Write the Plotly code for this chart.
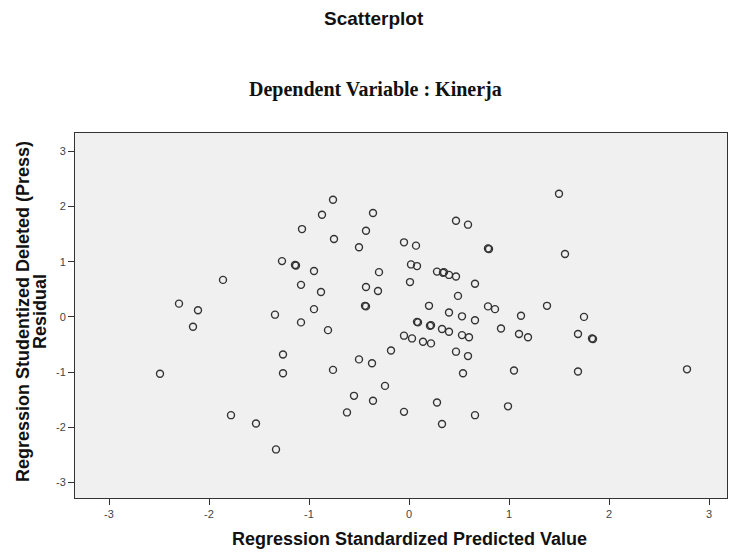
import plotly.graph_objects as go

# Regression Standardized Predicted Value (x) and Studentized Deleted Residual (y)
pred = [-2.49, -2.30, -2.11, -2.16, -1.86, -1.78, -1.53, -1.33, -1.34, -1.27,
        -1.14, -1.13, -1.26, -1.26, -1.07, -1.08, -1.08, -0.95, -0.95, -0.88,
        -0.87, -0.76, -0.75, -0.81, -0.76, -0.62, -0.55, -0.50, -0.50, -0.43,
        -0.44, -0.43, -0.43, -0.37, -0.36, -0.36, -0.31, -0.30, -0.24, -0.18,
        -0.05, -0.05, -0.05, 0.01, 0.02, 0.07, 0.08, 0.03, 0.08, 0.09,
        0.14, 0.20, 0.22, 0.21, 0.22, 0.28, 0.34, 0.35, 0.40, 0.28,
        0.33, 0.33, 0.40, 0.40, 0.47, 0.47, 0.49, 0.47, 0.53, 0.53,
        0.54, 0.59, 0.60, 0.59, 0.66, 0.66, 0.66, 0.79, 0.80, 0.79,
        0.86, 0.92, 0.99, 1.05, 1.10, 1.12, 1.19, 1.38, 1.50, 1.56,
        1.69, 1.69, 1.75, 1.83, 1.84, 2.78]
resid = [-1.03, 0.24, 0.12, -0.18, 0.67, -1.78, -1.93, -2.40, 0.04, 1.01,
         0.94, 0.93, -0.68, -1.02, 1.59, 0.58, -0.10, 0.83, 0.14, 0.45,
         1.85, 2.12, 1.41, -0.24, -0.96, -1.73, -1.43, 1.26, -0.77, 1.56,
         0.20, 0.19, 0.54, -0.84, -1.52, 1.88, 0.47, 0.81, -1.25, -0.61,
         1.35, -1.72, -0.34, 0.63, 0.95, 1.29, 0.92, -0.39, -0.09, -0.10,
         -0.45, 0.20, -0.15, -0.16, -0.48, 0.82, 0.80, 0.81, 0.76, -1.55,
         -1.94, -0.22, -0.27, 0.08, 1.74, 0.73, 0.38, -0.63, -0.33, 0.01,
         -1.02, 1.67, -0.37, -0.71, 0.60, -0.06, -1.78, 1.24, 1.23, 0.19,
         0.14, -0.21, -1.62, -0.97, -0.31, 0.02, -0.37, 0.20, 2.23, 1.14,
         -0.99, -0.31, 0.00, -0.39, -0.40, -0.95]

tick_vals = [-3, -2, -1, 0, 1, 2, 3]
tick_text = ["-3", "-2", "-1", "0", "1", "2", "3"]

title_text = "Scatterplot"
subtitle_text = "Dependent Variable : Kinerja"
x_title = "Regression Standardized Predicted Value"
y_title_1 = "Regression Studentized Deleted (Press)"
y_title_2 = "Residual"

SANS = "Liberation Sans, Arial, sans-serif"
SERIF = "Liberation Serif, Times New Roman, serif"

fig = go.Figure()
fig.add_trace(go.Scatter(
    x=pred, y=resid, mode="markers",
    marker=dict(symbol="circle-open", size=7, color="#333333",
                line=dict(width=1.4, color="#333333")),
    hoverinfo="x+y", showlegend=False,
))

axis_common = dict(
    showline=True, linecolor="#333333", linewidth=1, mirror=True,
    ticks="outside", ticklen=6, tickcolor="#333333", tickwidth=1,
    showgrid=False, zeroline=False,
    tickvals=tick_vals, ticktext=tick_text,
    tickfont=dict(family=SANS, size=11, color="#444444"),
)

L, T, W, H = 75, 133, 652, 365


def px(xp):
    return (xp - L) / W


def py(yp):
    return (T + H - yp) / H


fig.update_layout(
    width=730, height=552,
    margin=dict(l=L, r=730 - L - W, t=T, b=552 - T - H),
    paper_bgcolor="white", plot_bgcolor="#f0f0f0",
    xaxis=dict(range=[-3.34, 3.18], **axis_common),
    yaxis=dict(range=[-3.28, 3.33], **axis_common),
    annotations=[
        dict(text="<b>" + title_text + "</b>", xref="paper", yref="paper",
             x=px(374), y=py(18), xanchor="center", yanchor="middle",
             showarrow=False, font=dict(family=SANS, size=19, color="#111111")),
        dict(text="<b>" + subtitle_text + "</b>", xref="paper", yref="paper",
             x=px(375), y=py(89), xanchor="center", yanchor="middle",
             showarrow=False, font=dict(family=SERIF, size=20, color="#111111")),
        dict(text="<b>" + x_title + "</b>", xref="paper", yref="paper",
             x=px(409), y=py(539), xanchor="center", yanchor="middle",
             showarrow=False, font=dict(family=SANS, size=18, color="#111111")),
        dict(text="<b>" + y_title_1 + "</b>", xref="paper", yref="paper",
             x=px(23), y=py(312), xanchor="center", yanchor="middle",
             textangle=-90,
             showarrow=False, font=dict(family=SANS, size=18, color="#111111")),
        dict(text="<b>" + y_title_2 + "</b>", xref="paper", yref="paper",
             x=px(40), y=py(312), xanchor="center", yanchor="middle",
             textangle=-90,
             showarrow=False, font=dict(family=SANS, size=18, color="#111111")),
    ],
)

fig.write_html("out.html", config={"displayModeBar": False},
               post_script="document.body.style.margin='0';")
